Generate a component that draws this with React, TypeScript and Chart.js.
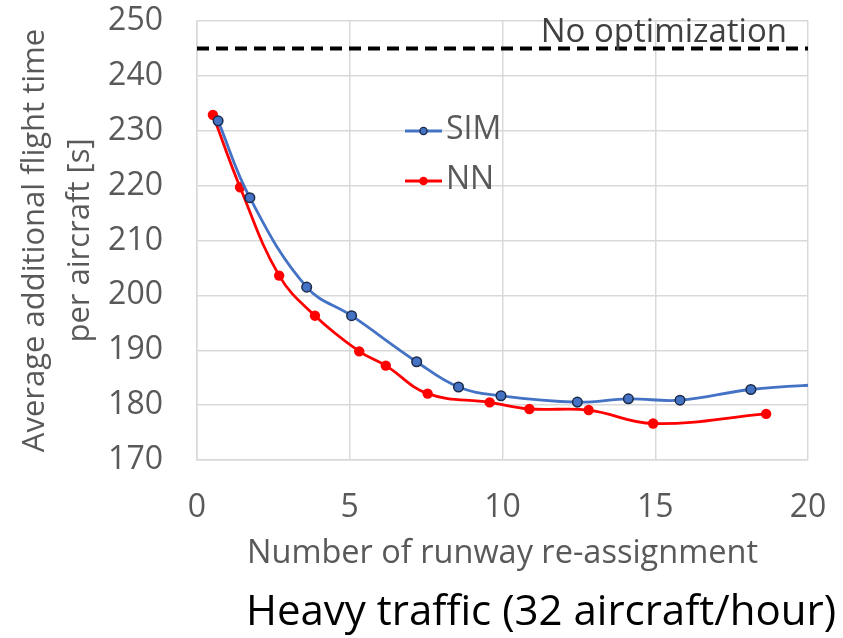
import React, { useEffect, useRef } from "react";
import { Chart, registerables } from "chart.js";

Chart.register(...registerables);

const FONT = '"Open Sans", sans-serif';

// Data
const simX = [0.69, 1.73, 3.59, 5.06, 7.19, 8.56, 9.95, 12.45, 14.12, 15.81, 18.13, 20.8];
const simY = [231.8, 217.8, 201.5, 196.3, 187.9, 183.3, 181.7, 180.55, 181.15, 180.9, 182.85, 183.9];
const nnX = [0.52, 1.41, 2.69, 3.86, 5.31, 6.18, 7.55, 9.58, 10.88, 12.82, 14.93, 18.63];
const nnY = [232.9, 219.7, 203.6, 196.3, 189.8, 187.2, 182.1, 180.5, 179.3, 179.1, 176.65, 178.4];
const noOptX = [0, 20];
const noOptY = [245, 245];
const seriesNames = ["SIM", "NN"];
const noOptLabel = "No optimization";
const xTitle = "Number of runway re-assignment";
const yTitle = ["Average additional flight time", "per aircraft [s]"];
const chartTitle = "Heavy traffic (32 aircraft/hour)";

const SIM_COLOR = "#4472C4";
const SIM_EDGE = "#1b2a47";
const NN_COLOR = "#FF0000";
const TEXT_GRAY = "#595959";

const overlayPlugin = {
  id: "overlayText",
  afterDraw(chart: any) {
    const ctx = chart.ctx;
    const area = chart.chartArea;
    const ys = chart.scales.y;
    ctx.save();
    // "No optimization" label
    ctx.font = `33px ${FONT}`;
    ctx.fillStyle = "#404040";
    ctx.textAlign = "right";
    ctx.textBaseline = "alphabetic";
    ctx.fillText(noOptLabel, area.right - 21, ys.getPixelForValue(noOptY[0]) - 6);

    // Legend inside the plot
    const lx0 = area.left + 208;
    const lx1 = area.left + 245;
    const lxm = (lx0 + lx1) / 2;
    const rows = [
      { name: seriesNames[0], y: 131, color: SIM_COLOR, edge: SIM_EDGE, r: 3.6 },
      { name: seriesNames[1], y: 181, color: NN_COLOR, edge: null, r: 4.3 },
    ];
    rows.forEach((row) => {
      ctx.strokeStyle = row.color;
      ctx.lineWidth = 2.8;
      ctx.beginPath();
      ctx.moveTo(lx0, row.y);
      ctx.lineTo(lx1, row.y);
      ctx.stroke();
      ctx.beginPath();
      ctx.arc(lxm, row.y, row.r, 0, Math.PI * 2);
      ctx.fillStyle = row.color;
      ctx.fill();
      if (row.edge) {
        ctx.strokeStyle = row.edge;
        ctx.lineWidth = 1.3;
        ctx.stroke();
      }
      ctx.font = `32px ${FONT}`;
      ctx.fillStyle = TEXT_GRAY;
      ctx.textAlign = "left";
      ctx.textBaseline = "middle";
      ctx.fillText(row.name, lx1 + 4, row.y - 1);
    });

    // Bottom caption
    ctx.font = `42px ${FONT}`;
    ctx.fillStyle = "#000000";
    ctx.textAlign = "center";
    ctx.textBaseline = "alphabetic";
    ctx.fillText(chartTitle, 541, 625);
    ctx.restore();
  },
};

export default function App() {
  const canvasRef = useRef<HTMLCanvasElement | null>(null);

  useEffect(() => {
    if (!canvasRef.current) return;
    const chart = new Chart(canvasRef.current, {
      type: "line",
      data: {
        datasets: [
          {
            label: seriesNames[0],
            data: simX.map((x, i) => ({ x, y: simY[i] })),
            borderColor: SIM_COLOR,
            backgroundColor: SIM_COLOR,
            pointBackgroundColor: SIM_COLOR,
            pointBorderColor: SIM_EDGE,
            pointBorderWidth: 1.5,
            pointRadius: simX.map((_, i) => (i === simX.length - 1 ? 0 : 4.8)),
            borderWidth: 2.8,
            tension: 0.4,
            fill: false,
          },
          {
            label: seriesNames[1],
            data: nnX.map((x, i) => ({ x, y: nnY[i] })),
            borderColor: NN_COLOR,
            backgroundColor: NN_COLOR,
            pointBackgroundColor: NN_COLOR,
            pointBorderColor: NN_COLOR,
            pointBorderWidth: 0,
            pointRadius: 5.2,
            borderWidth: 2.8,
            tension: 0.4,
            fill: false,
          },
          {
            label: noOptLabel,
            data: noOptX.map((x, i) => ({ x, y: noOptY[i] })),
            borderColor: "#000000",
            borderWidth: 4,
            borderDash: [12, 7],
            pointRadius: 0,
            fill: false,
          },
        ],
      },
      options: {
        responsive: true,
        maintainAspectRatio: false,
        animation: false,
        layout: { padding: { top: 21, right: 35, bottom: 0, left: 0 } },
        plugins: {
          legend: { display: false },
          tooltip: { enabled: false },
          title: { display: false },
        },
        scales: {
          x: {
            type: "linear",
            min: 0,
            max: 20,
            ticks: {
              stepSize: 5,
              color: TEXT_GRAY,
              font: { family: FONT, size: 32 },
              padding: 29,
            },
            grid: { color: "#d9d9d9", lineWidth: 1.5, drawTicks: false },
            border: { color: "#d9d9d9", width: 1.5 },
            title: {
              display: true,
              text: xTitle,
              color: TEXT_GRAY,
              font: { family: FONT, size: 32.5 },
              padding: { top: 0, bottom: 64.6 },
            },
            afterFit: (s: any) => {
              s.height = 178;
              s.paddingLeft = 0;
              s.paddingRight = 0;
            },
          },
          y: {
            type: "linear",
            min: 170,
            max: 250,
            ticks: {
              stepSize: 10,
              color: TEXT_GRAY,
              font: { family: FONT, size: 32 },
              padding: 34,
            },
            grid: { color: "#d9d9d9", lineWidth: 1.5, drawTicks: false },
            border: { color: "#d9d9d9", width: 1.5 },
            title: {
              display: true,
              text: yTitle,
              color: TEXT_GRAY,
              font: { family: FONT, size: 31, lineHeight: 1.48 },
              padding: { top: 11.8, bottom: 0 },
            },
            afterFit: (s: any) => {
              s.width = 197;
              s.paddingTop = 0;
              s.paddingBottom = 0;
            },
          },
        },
      },
      plugins: [overlayPlugin],
    });
    return () => chart.destroy();
  }, []);

  return (
    <div style={{ position: "absolute", left: 0, top: 0, width: 843, height: 638, background: "#ffffff" }}>
      <canvas ref={canvasRef} />
    </div>
  );
}
